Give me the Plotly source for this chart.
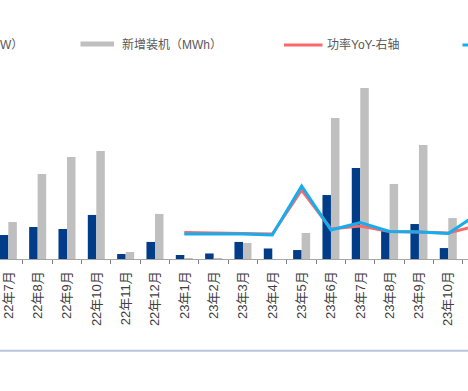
import plotly.graph_objects as go

# ---- data ----
months = ["22年7月", "22年8月", "22年9月", "22年10月", "22年11月", "22年12月",
          "23年1月", "23年2月", "23年3月", "23年4月", "23年5月", "23年6月",
          "23年7月", "23年8月", "23年9月", "23年10月", "23年11月"]
new_mw = [169, 225, 211, 310, 35, 120, 28, 39, 120, 74, 63, 450, 640, 204, 246, 77, 150]
new_mwh = [260, 598, 718, 760, 49, 317, 7, 4, 113, 0, 183, 992, 1203, 528, 802, 288, 400]
line_months = ["23年1月", "23年2月", "23年3月", "23年4月", "23年5月", "23年6月",
               "23年7月", "23年8月", "23年9月", "23年10月", "23年11月"]
power_yoy = [-20.1, -21.6, -21.6, -24.6, 108.0, -9.5, -0.5, -17.1, -18.6, -21.6, 1.0]
energy_yoy = [-24.6, -24.6, -24.6, -27.6, 120.1, -12.6, 10.0, -17.1, -18.6, -23.1, 35.7]

names = ["新增装机（MW）", "新增装机（MWh）", "功率YoY-右轴", "容量YoY-右轴"]
colors = ["#003C87", "#BFBFBF", "#F8696B", "#14AEEF"]

W, H = 468, 391
T, B = 60, 132
PH = H - T - B


def py(p):  # pixel y -> paper y
    return (H - B - p) / PH


def px(p):
    return p / W


fig = go.Figure()
fig.add_trace(go.Bar(x=months, y=new_mw, name=names[0], marker_color=colors[0],
                     marker_line_width=0))
fig.add_trace(go.Bar(x=months, y=new_mwh, name=names[1], marker_color=colors[1],
                     marker_line_width=0))
fig.add_trace(go.Scatter(x=line_months, y=power_yoy, name=names[2], mode="lines",
                         line=dict(color=colors[2], width=3), yaxis="y2"))
fig.add_trace(go.Scatter(x=line_months, y=energy_yoy, name=names[3], mode="lines",
                         line=dict(color=colors[3], width=3), yaxis="y2"))

font_family = "Noto Sans CJK SC"
tick_family = "Liberation Sans, Noto Sans CJK SC"
leg_family = "Liberation Sans, Noto Sans CJK SC"
shapes = []
annotations = []
ly = 44
# legend item 1 (cut off at left)
shapes.append(dict(type="rect", xref="paper", yref="paper", x0=px(-120), x1=px(-84),
                   y0=py(ly + 2.5), y1=py(ly - 2.5), fillcolor=colors[0], line_width=0))
annotations.append(dict(text=names[0], xref="paper", yref="paper", x=px(25), y=py(ly),
                        xanchor="right", yanchor="middle", showarrow=False,
                        font=dict(size=12, color="#595959", family=leg_family)))
# item 2
shapes.append(dict(type="rect", xref="paper", yref="paper", x0=px(80.5), x1=px(114),
                   y0=py(ly + 2.5), y1=py(ly - 2.5), fillcolor=colors[1], line_width=0))
annotations.append(dict(text=names[1], xref="paper", yref="paper", x=px(120), y=py(ly),
                        xanchor="left", yanchor="middle", showarrow=False,
                        font=dict(size=12, color="#595959", family=leg_family)))
# item 3
shapes.append(dict(type="line", xref="paper", yref="paper", x0=px(284), x1=px(322.5),
                   y0=py(ly + 1), y1=py(ly + 1), line=dict(color=colors[2], width=3)))
annotations.append(dict(text=names[2], xref="paper", yref="paper", x=px(325), y=py(ly),
                        xanchor="left", yanchor="middle", showarrow=False,
                        font=dict(size=12, color="#595959", family=leg_family)))
# item 4 (cut off at right)
shapes.append(dict(type="line", xref="paper", yref="paper", x0=px(462.5), x1=px(501),
                   y0=py(ly + 1), y1=py(ly + 1), line=dict(color=colors[3], width=3)))
annotations.append(dict(text=names[3], xref="paper", yref="paper", x=px(504), y=py(ly),
                        xanchor="left", yanchor="middle", showarrow=False,
                        font=dict(size=12, color="#595959", family=leg_family)))
# bottom rule
shapes.append(dict(type="line", xref="paper", yref="paper", x0=0, x1=1,
                   y0=py(350.7), y1=py(350.7), line=dict(color="#B8C4DE", width=2)))

c0 = 8.33
step = 29.33
fig.update_layout(
    width=W, height=H,
    margin=dict(l=0, r=0, t=T, b=B, autoexpand=False),
    paper_bgcolor="white", plot_bgcolor="white",
    barmode="group", bargap=0.42, bargroupgap=0,
    showlegend=False,
    font=dict(family=font_family, color="#404040"),
    xaxis=dict(type="category", categoryorder="array", categoryarray=months,
               range=[(0 - c0) / step, (W - c0) / step],
               tickson="boundaries", ticks="outside", ticklen=4, tickcolor="#808080",
               showline=True, linecolor="#A6A6A6", linewidth=1,
               tickangle=-90, ticklabelstandoff=6,
               tickfont=dict(size=13, color="#404040", family=tick_family),
               showgrid=False, zeroline=False, fixedrange=True),
    yaxis=dict(range=[0, 1400], visible=False, showgrid=False, zeroline=False),
    yaxis2=dict(range=[-100, 500], overlaying="y", side="right", visible=False,
                showgrid=False, zeroline=False),
    shapes=shapes, annotations=annotations,
)

fig.write_html("out.html", config={"displayModeBar": False},
               post_script="document.body.style.margin='0';document.body.style.overflow='hidden';")
